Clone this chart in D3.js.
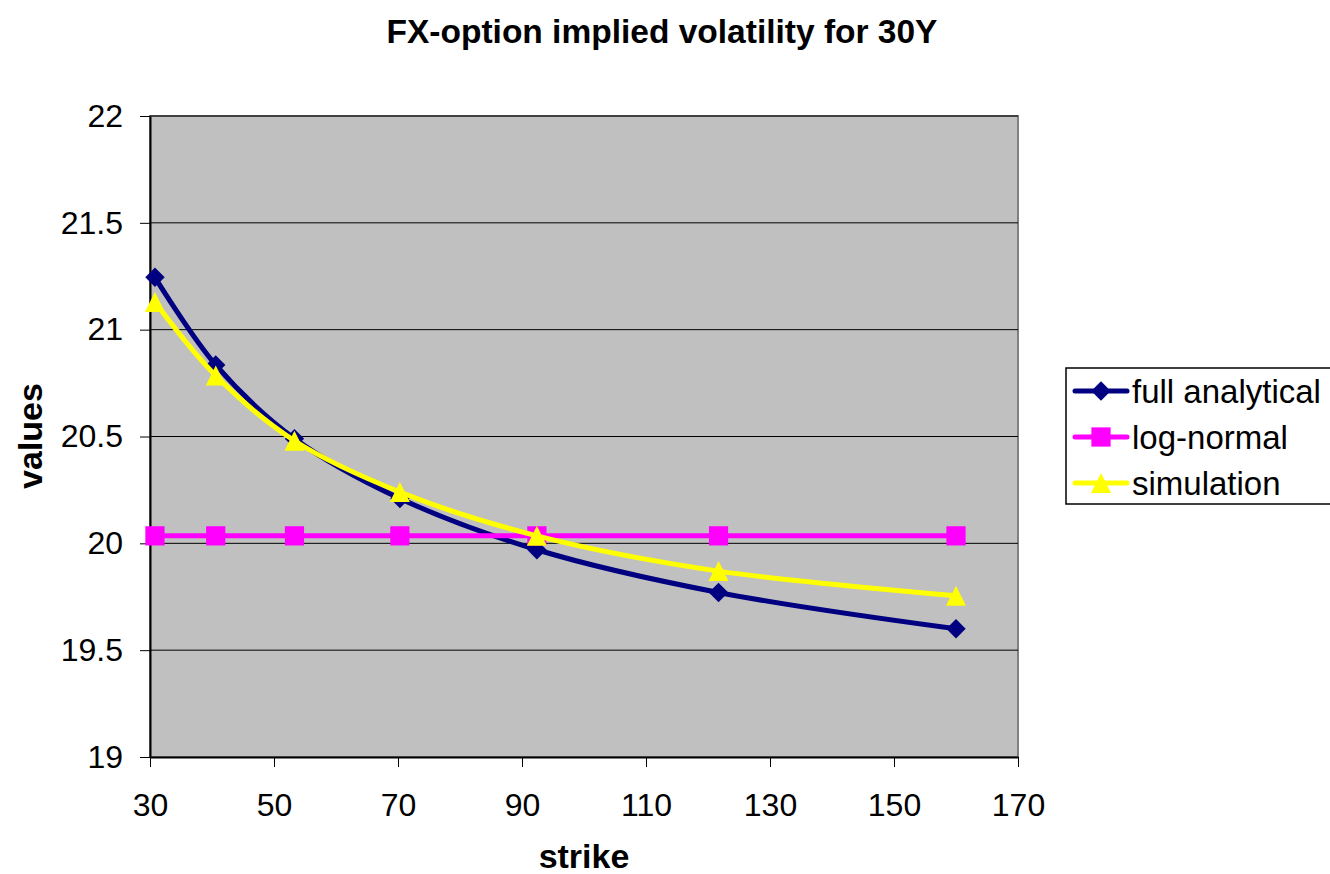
<!DOCTYPE html>
<html lang="en">
  <head>
    <meta charset="utf-8" />
    <title>FX-option implied volatility for 30Y</title>
    <script src="https://d3js.org/d3.v7.min.js"></script>
    <style>
      body { margin: 0; background: #fff; overflow: hidden; }
      text { font-family: "Liberation Sans", Arial, sans-serif; }
    </style>
  </head>
  <body>
    <script type="text/javascript">
      // strikes and implied vols
      const strikes = [30.8, 40.6, 53.3, 70.3, 92.4, 121.7, 160];
      const fullAnalytical = [21.245, 20.835, 20.49, 20.21, 19.97, 19.77, 19.6];
      const logNormal = [20.035, 20.035, 20.035, 20.035, 20.035, 20.035, 20.035];
      const simulation = [21.13, 20.785, 20.48, 20.24, 20.035, 19.87, 19.755];
      const xTicks = [30, 50, 70, 90, 110, 130, 150, 170];
      const yTicks = [19, 19.5, 20, 20.5, 21, 21.5, 22];

      const series = [
        { name: "full analytical", values: fullAnalytical, color: "#000080", marker: "diamond" },
        { name: "log-normal", values: logNormal, color: "#ff00ff", marker: "square" },
        { name: "simulation", values: simulation, color: "#ffff00", marker: "triangle" },
      ];

      const w = 1330;
      const h = 874;
      const plot = { left: 150, top: 116, right: 1018, bottom: 757 };

      const svg = d3.select("body").append("svg").attr("width", w).attr("height", h);

      const x = d3.scaleLinear().domain([30, 170]).range([plot.left, plot.right]);
      const y = d3.scaleLinear().domain([19, 22]).range([plot.bottom, plot.top]);

      // plot background
      svg.append("rect")
        .attr("x", plot.left).attr("y", plot.top)
        .attr("width", plot.right - plot.left).attr("height", plot.bottom - plot.top)
        .attr("fill", "#c0c0c0")
        .attr("stroke", "#808080").attr("stroke-width", 2);

      // gridlines
      svg.append("g")
        .selectAll("line")
        .data(yTicks.slice(1))
        .enter()
        .append("line")
        .attr("x1", plot.left).attr("x2", plot.right)
        .attr("y1", (d) => y(d)).attr("y2", (d) => y(d))
        .attr("stroke", "#000").attr("stroke-width", 1);

      // axes
      const xAxis = d3.axisBottom(x).tickValues(xTicks).tickSize(10).tickSizeOuter(0).tickPadding(26);
      const yAxis = d3.axisLeft(y).tickValues(yTicks).tickSize(10).tickSizeOuter(0).tickPadding(17)
        .tickFormat(d3.format("~g"));

      const gx = svg.append("g")
        .attr("transform", "translate(0," + plot.bottom + ")")
        .call(xAxis);
      const gy = svg.append("g")
        .attr("transform", "translate(" + plot.left + ",0)")
        .call(yAxis);

      [gx, gy].forEach((g) => {
        g.select(".domain").attr("stroke", "#000").attr("stroke-width", 2);
        g.selectAll(".tick line").attr("stroke", "#000").attr("stroke-width", 1);
        g.selectAll(".tick text")
          .attr("font-family", "Liberation Sans, Arial, sans-serif")
          .attr("font-size", "32px").attr("fill", "#000");
      });

      // lines
      const line = d3.line()
        .x((d) => x(d[0]))
        .y((d) => y(d[1]))
        .curve(d3.curveCatmullRom.alpha(0.5));

      // tall triangle like the spreadsheet marker
      const tallTriangle = {
        draw(context, size) {
          const r = Math.sqrt(size) / 2;
          context.moveTo(0, -r);
          context.lineTo(r, r);
          context.lineTo(-r, r);
          context.closePath();
        },
      };

      const symbolFor = {
        diamond: d3.symbol().type(d3.symbolDiamond2).size(240),
        square: d3.symbol().type(d3.symbolSquare).size(370),
        triangle: d3.symbol().type(tallTriangle).size(400),
      };

      series.forEach((s) => {
        const pts = strikes.map((k, i) => [k, s.values[i]]);
        svg.append("path")
          .datum(pts)
          .attr("d", line)
          .attr("fill", "none")
          .attr("stroke", s.color)
          .attr("stroke-width", 5);
        svg.append("g")
          .selectAll("path")
          .data(pts)
          .enter()
          .append("path")
          .attr("d", symbolFor[s.marker])
          .attr("transform", (d) => "translate(" + x(d[0]) + "," + y(d[1]) + ")")
          .attr("fill", s.color);
      });

      // title and axis labels
      svg.append("text")
        .attr("x", 662).attr("y", 43)
        .attr("text-anchor", "middle")
        .attr("font-size", "33.5px").attr("font-weight", "bold")
        .text("FX-option implied volatility for 30Y");

      svg.append("text")
        .attr("x", 584).attr("y", 868)
        .attr("text-anchor", "middle")
        .attr("font-size", "34px").attr("font-weight", "bold")
        .text("strike");

      svg.append("text")
        .attr("transform", "translate(42,436) rotate(-90)")
        .attr("text-anchor", "middle")
        .attr("font-size", "34px").attr("font-weight", "bold")
        .text("values");

      // legend
      const legend = svg.append("g").attr("transform", "translate(1066,368)");
      legend.append("rect")
        .attr("width", 275).attr("height", 136)
        .attr("fill", "#fff").attr("stroke", "#000").attr("stroke-width", 1.5);

      const item = legend.selectAll("g.item")
        .data(series)
        .enter()
        .append("g")
        .attr("class", "item")
        .attr("transform", (d, i) => "translate(0," + (23 + i * 46) + ")");

      item.append("line")
        .attr("x1", 9).attr("x2", 61)
        .attr("stroke", (d) => d.color)
        .attr("stroke-width", 5)
        .attr("stroke-linecap", "round");
      item.append("path")
        .attr("d", (d) => symbolFor[d.marker]())
        .attr("transform", "translate(35,0)")
        .attr("fill", (d) => d.color);
      item.append("text")
        .attr("x", 66).attr("y", 12)
        .attr("font-size", "33px")
        .text((d) => d.name);
    </script>
  </body>
</html>
